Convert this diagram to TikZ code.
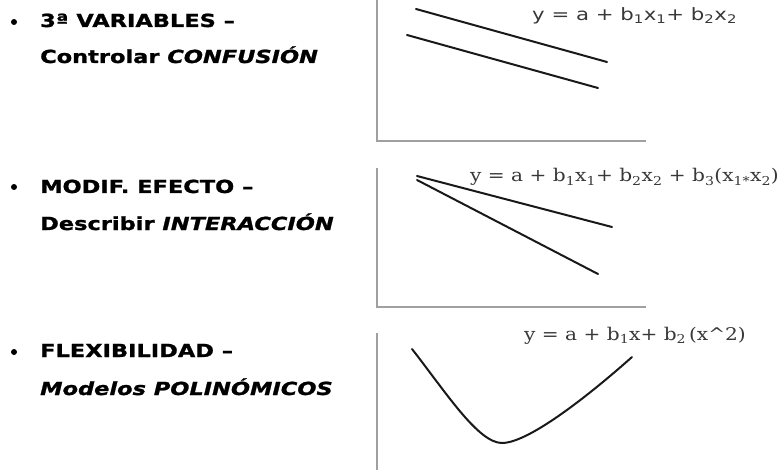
\documentclass[tikz,border=0pt]{standalone}
\usepackage{fontspec}
\setmainfont{DejaVu Sans}
\newfontfamily\lblfont{DejaVu Sans}[FakeStretch=1.25, BoldFeatures={FakeBold=1.2}, BoldItalicFeatures={FakeBold=1.2}]
\newfontfamily\eqsans{DejaVu Sans}[FakeStretch=1.25]
\newfontfamily\eqserif{DejaVu Serif}[FakeStretch=1.15]
\definecolor{axisgray}{HTML}{A0A0A0}
\definecolor{eqgray}{HTML}{383838}
\tikzset{
  lbl/.style={anchor=base west, inner sep=0pt, font=\fontsize{18}{20}\lblfont\bfseries},
  eqA/.style={anchor=base west, inner sep=0pt, text=eqgray, font=\fontsize{17}{18}\eqsans},
  eqB/.style={anchor=base west, inner sep=0pt, text=eqgray, font=\fontsize{17.5}{18}\eqserif},
  bul/.style={circle, fill=black, inner sep=0pt, minimum size=6pt},
  axisline/.style={draw=axisgray, line width=2pt},
  curveline/.style={draw=black!90, line width=2pt, line cap=round}
}
\begin{document}
\begin{tikzpicture}[x=1pt,y=-1pt]
\useasboundingbox (0,0) rectangle (778,470);
% left texts
\node[bul] (b1) at (14,22) {};
\node[lbl] (t1a) at (40,27) {3ª VARIABLES –};
\node[lbl] (t1b) at (40,63) {Controlar \textit{CONFUSIÓN}};
\node[bul] (b2) at (14,187) {};
\node[lbl] (t2a) at (40,193) {MODIF. EFECTO –};
\node[lbl] (t2b) at (40,230) {Describir \textit{INTERACCIÓN}};
\node[bul] (b3) at (14,352) {};
\node[lbl] (t3a) at (40,357) {FLEXIBILIDAD –};
\node[lbl] (t3b) at (40,395) {\textit{Modelos POLINÓMICOS}};
% panel 1
\draw[axisline] (377,0) -- (377,141) -- (646,141);
\draw[curveline] (416,9) -- (607,62);
\draw[curveline] (407,35) -- (598,88);
\node[eqA] (e1) at (532,21) {y = a + b\textsubscript{1}x\textsubscript{1}+ b\textsubscript{2}x\textsubscript{2}};
% panel 2
\draw[axisline] (377,168) -- (377,307) -- (646,307);
\draw[curveline] (417,176) -- (612,227);
\draw[curveline] (417,180) -- (598,274);
\node[eqB] (e2) at (470,182) {y = a + b\textsubscript{1}x\textsubscript{1}+ b\textsubscript{2}x\textsubscript{2} + b\textsubscript{3}(x\textsubscript{1*}x\textsubscript{2})};
% panel 3
\draw[axisline] (377,333) -- (377,470);
\draw[curveline] (412,349) .. controls (445,391) and (478,443) .. (502,443)
  .. controls (530,443) and (595,390) .. (632,357);
\node[eqB] (e3) at (524,340) {y = a + b\textsubscript{1}x+ b\textsubscript{2}\,(x\^{}2)};
\end{tikzpicture}
\end{document}
